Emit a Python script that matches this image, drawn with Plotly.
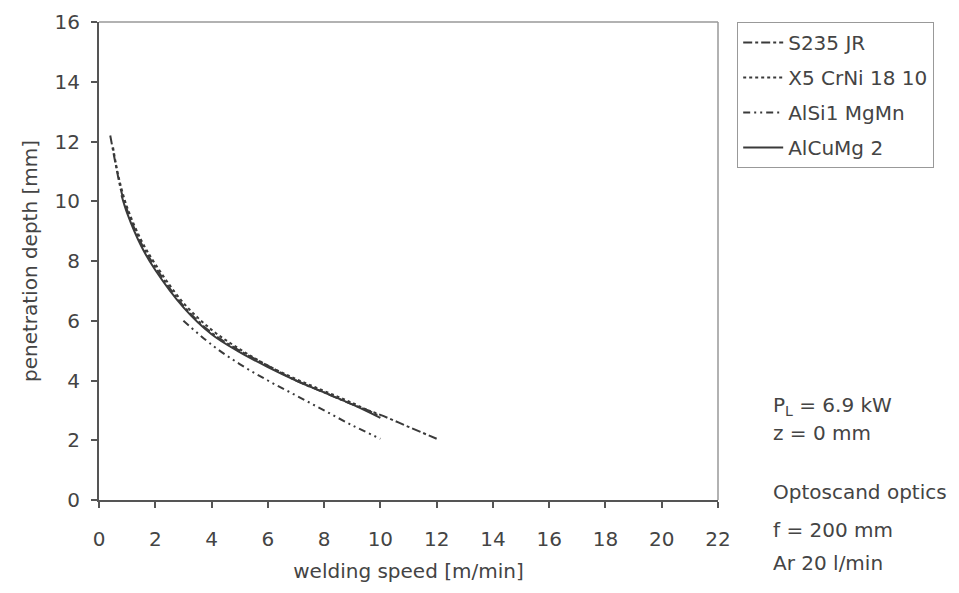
import plotly.graph_objects as go

# Data
speed_s235 = [0.4, 0.6, 0.8, 1.0, 1.5, 2, 3, 4, 5, 6, 7, 8, 9, 10, 11, 12]
depth_s235 = [12.2, 11.2, 10.3, 9.7, 8.6, 7.8, 6.5, 5.6, 5.0, 4.5, 4.0, 3.6, 3.2, 2.85, 2.45, 2.05]

speed_x5 = [0.5, 0.7, 1.0, 1.5, 2, 3, 4, 5, 6, 7, 8, 9, 10]
depth_x5 = [11.8, 10.8, 9.8, 8.7, 7.9, 6.6, 5.7, 5.05, 4.5, 4.05, 3.65, 3.25, 2.8]

speed_alsi = [3, 4, 5, 6, 7, 8, 9, 10]
depth_alsi = [6.0, 5.2, 4.55, 4.0, 3.5, 3.0, 2.5, 2.05]

speed_alcu = [0.8, 1.0, 1.5, 2, 3, 4, 5, 6, 7, 8, 9, 10]
depth_alcu = [10.2, 9.6, 8.5, 7.7, 6.45, 5.55, 4.95, 4.45, 4.0, 3.6, 3.2, 2.75]

names = ["S235 JR", "X5 CrNi 18 10", "AlSi1 MgMn", "AlCuMg 2"]
dashes = ["dashdot", "dot", "7px,4px,2px,4px,2px,4px", "solid"]

x_ticks = list(range(0, 23, 2))
y_ticks = list(range(0, 17, 2))

line_col = "#3a3a3a"
text_col = "#444444"
font_fam = "DejaVu Sans, sans-serif"
fs = 20

fig = go.Figure()
series = [(speed_s235, depth_s235), (speed_x5, depth_x5), (speed_alsi, depth_alsi), (speed_alcu, depth_alcu)]
for i, ((xs, ys), nm, ds) in enumerate(zip(series, names, dashes)):
    fig.add_trace(go.Scatter(
        x=xs, y=ys, mode="lines", name=nm, legendgroup=f"g{i}",
        line=dict(color=line_col, width=2, dash=ds, shape="spline"),
    ))

fig.update_layout(
    width=959, height=593,
    margin=dict(l=91, r=249, t=14, b=101, autoexpand=False),
    paper_bgcolor="white", plot_bgcolor="white",
    font=dict(family=font_fam, size=fs, color=text_col),
    showlegend=True,
    legend=dict(
        x=1.031, y=1.0, xanchor="left", yanchor="top",
        bordercolor="#999999", borderwidth=1,
        font=dict(size=fs, color=text_col),
        traceorder="grouped", tracegroupgap=6,
        itemwidth=40,
    ),
    xaxis=dict(
        range=[0, 22], tickvals=x_ticks, automargin=False,
        showgrid=False, zeroline=False,
        showline=True, linecolor="#555555", linewidth=2,
        ticks="outside", ticklen=6, tickcolor="#555555", tickwidth=1.5,
        ticklabelstandoff=14,
        title=dict(text="welding speed [m/min]", standoff=14, font=dict(size=fs)),
        tickfont=dict(size=fs),
    ),
    yaxis=dict(
        range=[0, 16], tickvals=y_ticks, automargin=False,
        showgrid=False, zeroline=False,
        showline=True, linecolor="#555555", linewidth=2,
        ticks="outside", ticklen=6, tickcolor="#555555", tickwidth=1.5,
        ticklabelstandoff=7,
        title=dict(text="penetration depth [mm]", standoff=12, font=dict(size=fs)),
        tickfont=dict(size=fs),
    ),
)

# top and right border of plot box
fig.add_shape(type="line", xref="paper", yref="paper", x0=0, x1=1, y0=1, y1=1,
              line=dict(color="#999999", width=1.5))
fig.add_shape(type="line", xref="paper", yref="paper", x0=1, x1=1, y0=0, y1=1,
              line=dict(color="#999999", width=1.5))

notes = [
    ("P<sub>L</sub> = 6.9 kW", 406),
    ("z = 0 mm", 433),
    ("Optoscand optics", 492),
    ("f = 200 mm", 530),
    ("Ar 20 l/min", 563),
]
for txt, ypix in notes:
    fig.add_annotation(
        text=txt, xref="paper", yref="paper",
        x=(771 - 99) / 619, y=(500 - ypix) / 478,
        xanchor="left", yanchor="middle", showarrow=False,
        font=dict(size=fs, color=text_col),
    )

fig.write_html("out.html")
